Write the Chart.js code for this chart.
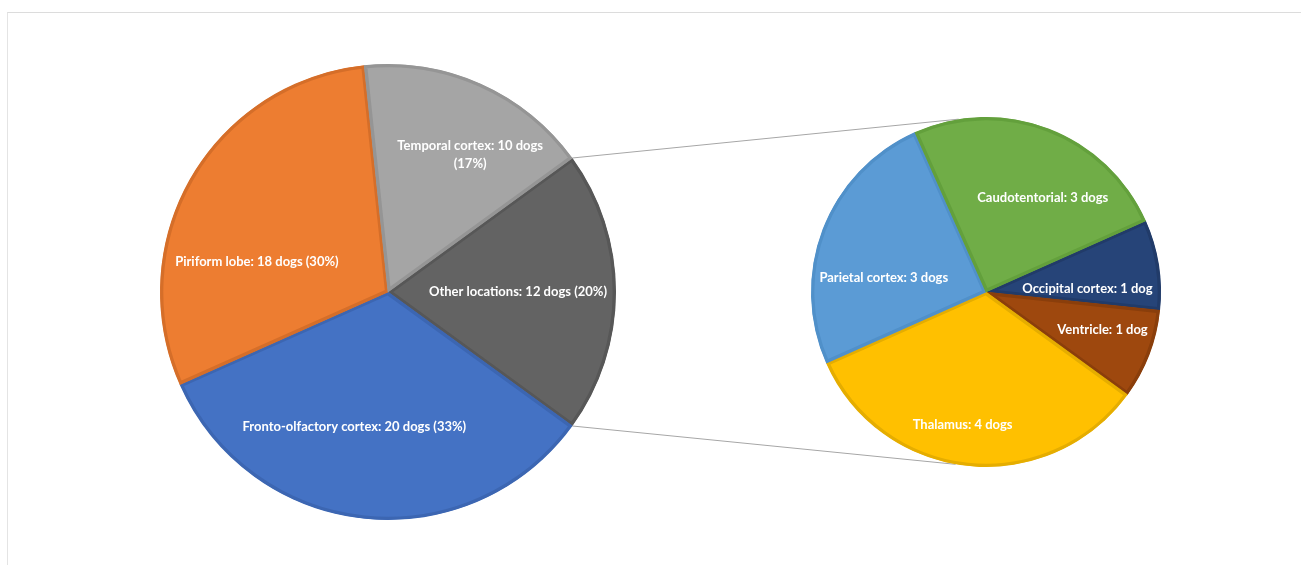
<!DOCTYPE html>
<html>
<head>
<meta charset="utf-8">
<script src="https://cdn.jsdelivr.net/npm/chart.js@4.4.1/dist/chart.umd.min.js"></script>
<style>
    html, body { margin: 0; padding: 0; background: #fff; overflow: hidden; }
    #wrap { position: relative; width: 1301px; height: 565px; }
    #frame { position: absolute; left: 7px; top: 12px; right: -5px; bottom: -5px; border-top: 1px solid #dcdcdc; border-left: 1px solid #e4e4e4; }
    canvas { position: absolute; left: 0; top: 0; }
</style>
</head>
<body>
<div id="wrap">
    <div id="frame"></div>
    <canvas id="main-pie" width="1301" height="565"></canvas>
    <canvas id="sub-pie" width="1301" height="565"></canvas>
</div>
<script>
// main pie data (clockwise from the "other" slice)
const mainLabels = ['Other locations', 'Fronto-olfactory cortex', 'Piriform lobe', 'Temporal cortex'];
const mainDogs = [12, 20, 18, 10];

// secondary pie data: breakdown of "other locations"
const subLabels = ['Occipital cortex', 'Ventricle', 'Thalamus', 'Parietal cortex', 'Caudotentorial'];
const subDogs = [1, 1, 4, 3, 3];

const mainColors = ['#636363', '#4472C4', '#ED7D31', '#A5A5A5'];
const mainBorders = ['#575757', '#3c66b2', '#d56e29', '#959595'];
const subColors = ['#264478', '#9E480E', '#FFC000', '#5B9BD5', '#70AD47'];
const subBorders = ['#213b69', '#8a3e0b', '#e5ad00', '#5090c9', '#63a03c'];

// label placement: [angle shift from slice middle (deg), fraction of radius]
const mainLabelPlace = [[0, 0.57], [8, 0.61], [-17, 0.59], [7, 0.70]];
const subLabelPlace = [[7, 0.58], [-3, 0.70], [4, 0.77], [-13, 0.59], [10, 0.63]];

const total = (arr) => arr.reduce((a, b) => a + b, 0);
const dogText = (n) => n + (n === 1 ? ' dog' : ' dogs');

const mainText = mainLabels.map((l, i) => {
    const pct = Math.round(mainDogs[i] / total(mainDogs) * 100);
    // temporal label wraps onto two lines
    if (i === 3) return [`${l}: ${dogText(mainDogs[i])}`, `(${pct}%)`];
    return [`${l}: ${dogText(mainDogs[i])} (${pct}%)`];
});
const subText = subLabels.map((l, i) => [`${l}: ${dogText(subDogs[i])}`]);

// draw white slice labels from arc geometry
const sliceLabels = (texts, place) => ({
    id: 'sliceLabels',
    afterDatasetsDraw(chart) {
        const ctx = chart.ctx;
        const arcs = chart.getDatasetMeta(0).data;
        ctx.save();
        ctx.fillStyle = '#ffffff';
        ctx.font = 'bold 13px Lato, "Open Sans", sans-serif';
        ctx.textAlign = 'center';
        ctx.textBaseline = 'middle';
        arcs.forEach((arc, i) => {
            const p = arc.getProps(['x', 'y', 'startAngle', 'endAngle', 'outerRadius']);
            const a = (p.startAngle + p.endAngle) / 2 + place[i][0] * Math.PI / 180;
            const r = p.outerRadius * place[i][1];
            const lines = texts[i];
            const lh = 18;
            lines.forEach((t, k) => {
                const y = p.y + r * Math.sin(a) + (k - (lines.length - 1) / 2) * lh;
                ctx.fillText(t, p.x + r * Math.cos(a), y);
            });
        });
        ctx.restore();
    }
});

const baseOptions = (rotation, padding) => ({
    responsive: false,
    animation: false,
    rotation: rotation,
    layout: { padding: padding },
    plugins: { legend: { display: false }, tooltip: { enabled: false } }
});

const mainChart = new Chart(document.getElementById('main-pie'), {
    type: 'pie',
    data: {
        labels: mainLabels,
        datasets: [{
            data: mainDogs,
            backgroundColor: mainColors,
            borderColor: mainBorders,
            borderWidth: 3,
            borderAlign: 'inner'
        }]
    },
    options: baseOptions(54, { left: 160, right: 685, top: 64, bottom: 45 }),
    plugins: [sliceLabels(mainText, mainLabelPlace)]
});

// connector lines from the "other" slice to the secondary pie
const connectors = {
    id: 'connectors',
    beforeDatasetsDraw(chart) {
        const other = mainChart.getDatasetMeta(0).data[0].getProps(['x', 'y', 'startAngle', 'endAngle', 'outerRadius']);
        const sub = chart.getDatasetMeta(0).data[0].getProps(['x', 'y', 'outerRadius']);
        const ends = [[other.startAngle, -99], [other.endAngle, 100]];
        const ctx = chart.ctx;
        ctx.save();
        ctx.strokeStyle = '#a6a6a6';
        ctx.lineWidth = 1;
        ends.forEach(([a0, a1]) => {
            const b = a1 * Math.PI / 180;
            ctx.beginPath();
            ctx.moveTo(other.x + other.outerRadius * Math.cos(a0), other.y + other.outerRadius * Math.sin(a0));
            ctx.lineTo(sub.x + sub.outerRadius * Math.cos(b), sub.y + sub.outerRadius * Math.sin(b));
            ctx.stroke();
        });
        ctx.restore();
    }
};

new Chart(document.getElementById('sub-pie'), {
    type: 'pie',
    data: {
        labels: subLabels,
        datasets: [{
            data: subDogs,
            backgroundColor: subColors,
            borderColor: subBorders,
            borderWidth: 3,
            borderAlign: 'inner'
        }]
    },
    options: baseOptions(66, { left: 811, right: 140, top: 117, bottom: 98 }),
    plugins: [connectors, sliceLabels(subText, subLabelPlace)]
});
</script>
</body>
</html>
